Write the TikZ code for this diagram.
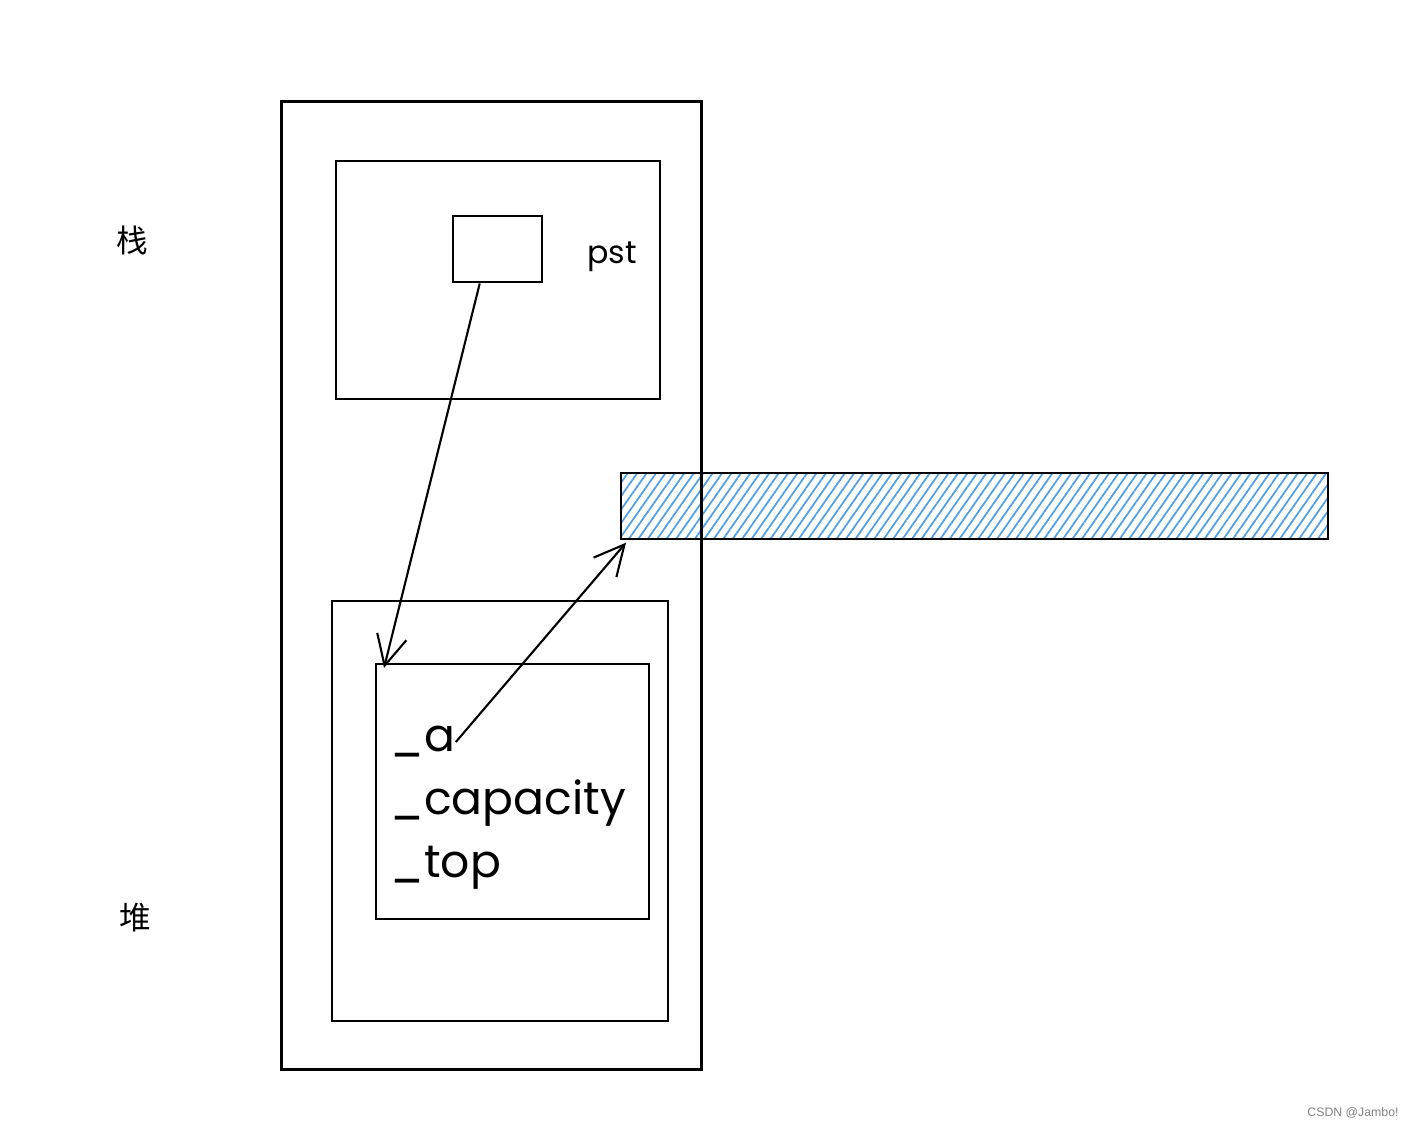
\documentclass[tikz,border=0pt]{standalone}
\usepackage{fontspec}
\setmainfont{Poppins}
\newfontfamily\cjk{Noto Sans CJK SC}
\newfontfamily\wmfont{Liberation Sans}
\usetikzlibrary{arrows.meta,patterns.meta}
\begin{document}
\begin{tikzpicture}[
  every node/.style={inner sep=0pt},
  box/.style={draw,line width=0.7pt,anchor=north west},
  hand/.style={font=\fontsize{13}{15}\selectfont,anchor=base west},
  link/.style={line width=0.6pt,-{Straight Barb[length=3mm,width=3mm]}}]
\useasboundingbox (0,0) rectangle (14.08,-11.27);
\node[box,minimum width=7.07cm,minimum height=0.66cm,
  pattern={Lines[angle=55,distance=2.2pt,line width=0.5pt]},
  pattern color={rgb,255:red,80;green,160;blue,230}] (arr) at (6.20,-4.72) {};
\node[box,line width=0.8pt,minimum width=4.20cm,minimum height=9.68cm] (mem) at (2.80,-1.00) {};
\node[box,minimum width=3.24cm,minimum height=2.38cm] (frame) at (3.35,-1.60) {};
\node[box,minimum width=0.89cm,minimum height=0.66cm] (ptr) at (4.52,-2.15) {};
\node[box,minimum width=3.36cm,minimum height=4.20cm] (heap) at (3.31,-6.00) {};
\node[box,minimum width=2.73cm,minimum height=2.55cm] (obj) at (3.75,-6.63) {};
\node[font=\fontsize{9}{11}\selectfont] (name) at (6.12,-2.57) {pst};
\node[font=\cjk\fontsize{9}{11}\selectfont] (stack) at (1.32,-2.40) {栈};
\node[font=\cjk\fontsize{9}{11}\selectfont] (heapname) at (1.35,-9.18) {堆};
\node[hand] (fa) at (3.90,-7.52) {\_a};
\node[hand] (fcap) at (3.90,-8.15) {\_capacity};
\node[hand] (ftop) at (3.90,-8.78) {\_top};
\draw[link] ([xshift=-0.18cm]ptr.south) -- ([xshift=0.09cm,yshift=-0.05cm]obj.north west);
\draw[link] (fa.east) -- ([xshift=0.06cm,yshift=-0.03cm]arr.south west);
\node[font=\wmfont\fontsize{3.5}{4}\selectfont,text=gray] (mark) at (13.53,-11.13) {CSDN @Jambo!};
\end{tikzpicture}
\end{document}
